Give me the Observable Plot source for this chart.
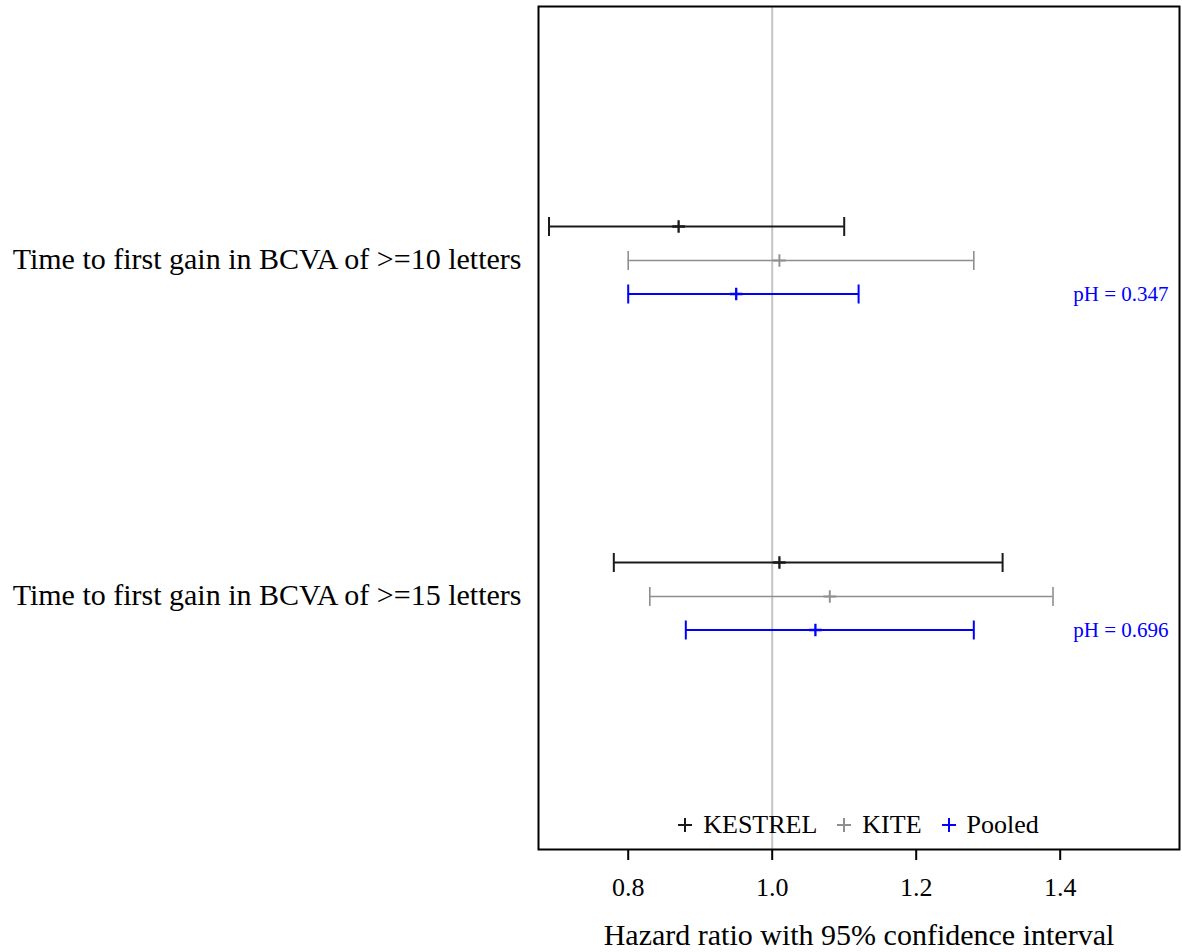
<!DOCTYPE html>
<html>
<head>
<meta charset="utf-8">
<script src="https://cdn.jsdelivr.net/npm/d3@7"></script>
<script src="https://cdn.jsdelivr.net/npm/@observablehq/plot@0.6"></script>
<style>
  body { margin: 0; background: #fff; }
  #wrap { position: relative; width: 1182px; height: 952px; font-family: "Liberation Serif", "Times New Roman", serif; }
  #legend { position: absolute; left: 538px; width: 641px; top: 812px; display: flex; justify-content: center; align-items: center; font-size: 26px; line-height: 26px; color: #000; }
  #legend .item { display: flex; align-items: center; }
  #legend .item + .item { margin-left: 20px; }
  #legend svg { margin-right: 11px; }
</style>
</head>
<body>
<div id="wrap"></div>
<script>
// ---- data ----
const categories = [
  "Time to first gain in BCVA of >=10 letters",
  "Time to first gain in BCVA of >=15 letters"
];
const series = ["KESTREL", "KITE", "Pooled"];
const seriesColors = ["#1a1a1a", "#8f8f8f", "#0000ff"];

const estKESTREL = [0.87, 1.01];
const lowKESTREL = [0.69, 0.78];
const highKESTREL = [1.10, 1.32];

const estKITE = [1.01, 1.08];
const lowKITE = [0.80, 0.83];
const highKITE = [1.28, 1.39];

const estPooled = [0.95, 1.06];
const lowPooled = [0.80, 0.88];
const highPooled = [1.12, 1.28];

const pHeterogeneity = ["0.347", "0.696"];

const xTicks = [0.8, 1.0, 1.2, 1.4];
const xDomain = [0.6754, 1.5657];
const referenceValue = [1.0];
const xLabel = "Hazard ratio with 95% confidence interval";

// ---- table ----
const ests = [estKESTREL, estKITE, estPooled];
const lows = [lowKESTREL, lowKITE, lowPooled];
const highs = [highKESTREL, highKITE, highPooled];
const rows = [];
series.forEach((s, j) => categories.forEach((c, i) => {
  rows.push({series: s, category: c, est: ests[j][i], lo: lows[j][i], hi: highs[j][i]});
}));
const pRows = categories.map((c, i) => ({category: c, p: pHeterogeneity[i]}));

// ---- style ----
const rowOffset = {KESTREL: -34, KITE: 0, Pooled: 33.5};
const rowWidth = {KESTREL: 2, KITE: 1.6, Pooled: 2};
const capSymbol = {
  draw(context, size) {
    const h = Math.sqrt(size / Math.PI);
    context.moveTo(0, -h);
    context.lineTo(0, h);
  }
};

const marks = [Plot.ruleX(referenceValue, {stroke: "#c4c4c4", strokeWidth: 2})];
for (const s of series) {
  const data = rows.filter(d => d.series === s);
  const dy = rowOffset[s], w = rowWidth[s];
  marks.push(
    Plot.ruleY(data, {y: "category", x1: "lo", x2: "hi", stroke: "series", strokeWidth: w, dy}),
    Plot.dot(data, {x: "lo", y: "category", symbol: capSymbol, r: 9.5, fill: "none", stroke: "series", strokeWidth: w, dy}),
    Plot.dot(data, {x: "hi", y: "category", symbol: capSymbol, r: 9.5, fill: "none", stroke: "series", strokeWidth: w, dy}),
    Plot.dot(data, {x: "est", y: "category", symbol: "plus", r: 4.15, fill: "none", stroke: "series", strokeWidth: w + 0.3, dy})
  );
}
marks.push(
  Plot.text(pRows, {y: "category", text: d => `pH = ${d.p}`, frameAnchor: "right", dx: -11, dy: 34, textAnchor: "end", fill: "#0000ff", fontSize: 21}),
  Plot.axisX({ticks: xTicks, tickFormat: d3.format(".1f"), tickSize: 11, tickPadding: 17, fontSize: 26, strokeWidth: 2, label: null}),
  Plot.axisY({tickSize: 0, tickPadding: 17, fontSize: 30, dy: -1.5, label: null}),
  Plot.text([xLabel], {frameAnchor: "bottom", dy: 95.4, fontSize: 30, fill: "black"}),
  Plot.frame({stroke: "black", strokeWidth: 2})
);

const chart = Plot.plot({
  width: 1182,
  height: 952,
  marginLeft: 538,
  marginRight: 3,
  marginTop: 6,
  marginBottom: 103,
  style: {fontFamily: '"Liberation Serif", "Times New Roman", serif', background: "white", color: "black", overflow: "visible"},
  x: {domain: xDomain},
  y: {type: "point", domain: categories, padding: 0.753},
  color: {domain: series, range: seriesColors},
  marks
});

const wrap = document.getElementById("wrap");
wrap.appendChild(chart);

// legend inside the frame, bottom
const legend = document.createElement("div");
legend.id = "legend";
series.forEach((s, j) => {
  const item = document.createElement("div");
  item.className = "item";
  item.innerHTML = `<svg width="14" height="14" viewBox="0 0 14 14"><path d="M0,7H14M7,0V14" stroke="${seriesColors[j]}" stroke-width="2"/></svg><span>${s}</span>`;
  legend.appendChild(item);
});
wrap.appendChild(legend);
</script>
</body>
</html>
